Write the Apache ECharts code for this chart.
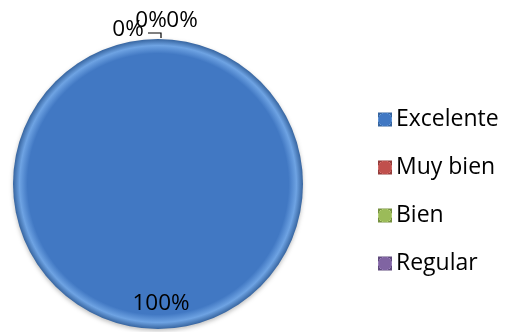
<!DOCTYPE html>
<html><head><meta charset="utf-8">
<script src="https://cdn.jsdelivr.net/npm/echarts@6/dist/echarts.min.js"></script>
<style>html,body{margin:0;padding:0;background:#fff}#c{width:510px;height:332px}</style>
</head><body><div id="c"></div>
<script>
var categories = ['Excelente', 'Muy bien', 'Bien', 'Regular'];
var values = [100, 0, 0, 0];
var colors = ['#4178c3', '#c0504d', '#9bbb59', '#8064a2'];
var edgeLight = ['#6ea3e3', '#e07a77', '#c2dc84', '#a58ac6'];
var edgeDark = ['#36649f', '#943c3a', '#76913f', '#5f4a7c'];

var CX = 158, CY = 184, R = 145;
var FONT = '"Open Sans", Lato, sans-serif';

function fill(i) {
  return new echarts.graphic.RadialGradient(0.5, 0.5, 0.5, [
    {offset: 0, color: colors[i]},
    {offset: 0.9, color: colors[i]},
    {offset: 0.955, color: edgeLight[i]},
    {offset: 1, color: edgeDark[i]}
  ]);
}

var zeroLabelPos = {1: [-30, -9], 2: [-7, -18], 3: [24, -18]};

var chart = echarts.init(document.getElementById('c'), null, {renderer: 'canvas'});
chart.setOption({
  animation: false,
  legend: {
    orient: 'vertical',
    left: 373,
    top: 103,
    itemWidth: 14,
    itemHeight: 14,
    itemGap: 25,
    icon: 'rect',
    textStyle: {fontFamily: FONT, fontSize: 23, color: '#000', padding: [0, 0, 0, -1]},
    data: categories
  },
  series: [{
    type: 'pie',
    center: [CX, CY],
    radius: R,
    startAngle: 90,
    clockwise: true,
    avoidLabelOverlap: false,
    stillShowZeroSum: true,
    itemStyle: {shadowBlur: 4, shadowColor: 'rgba(0,0,0,0.25)', shadowOffsetY: 2},
    label: {
      show: true,
      formatter: function (p) { return Math.round(p.percent) + '%'; },
      fontFamily: FONT, fontSize: 22.5, color: '#000'
    },
    labelLine: {show: false},
    labelLayout: function (p) {
      if (p.dataIndex === 0) {
        return {x: CX + 3, y: CY + 120, align: 'center', verticalAlign: 'middle'};
      }
      var o = zeroLabelPos[p.dataIndex];
      var res = {x: CX + o[0], y: CY - R + o[1], align: 'center', verticalAlign: 'middle'};
      if (p.dataIndex === 2) {
        res.labelLinePoints = [[CX + 3, CY - R - 1], [CX + 3, CY - R - 6], [CX - 10, CY - R - 6]];
      }
      return res;
    },
    data: categories.map(function (c, i) {
      var d = {name: c, value: values[i], itemStyle: {color: fill(i)}};
      if (i === 2) d.labelLine = {show: true, length: 5, length2: 10, lineStyle: {color: '#000', width: 1.2}};
      return d;
    })
  }]
});
</script>
</body></html>
